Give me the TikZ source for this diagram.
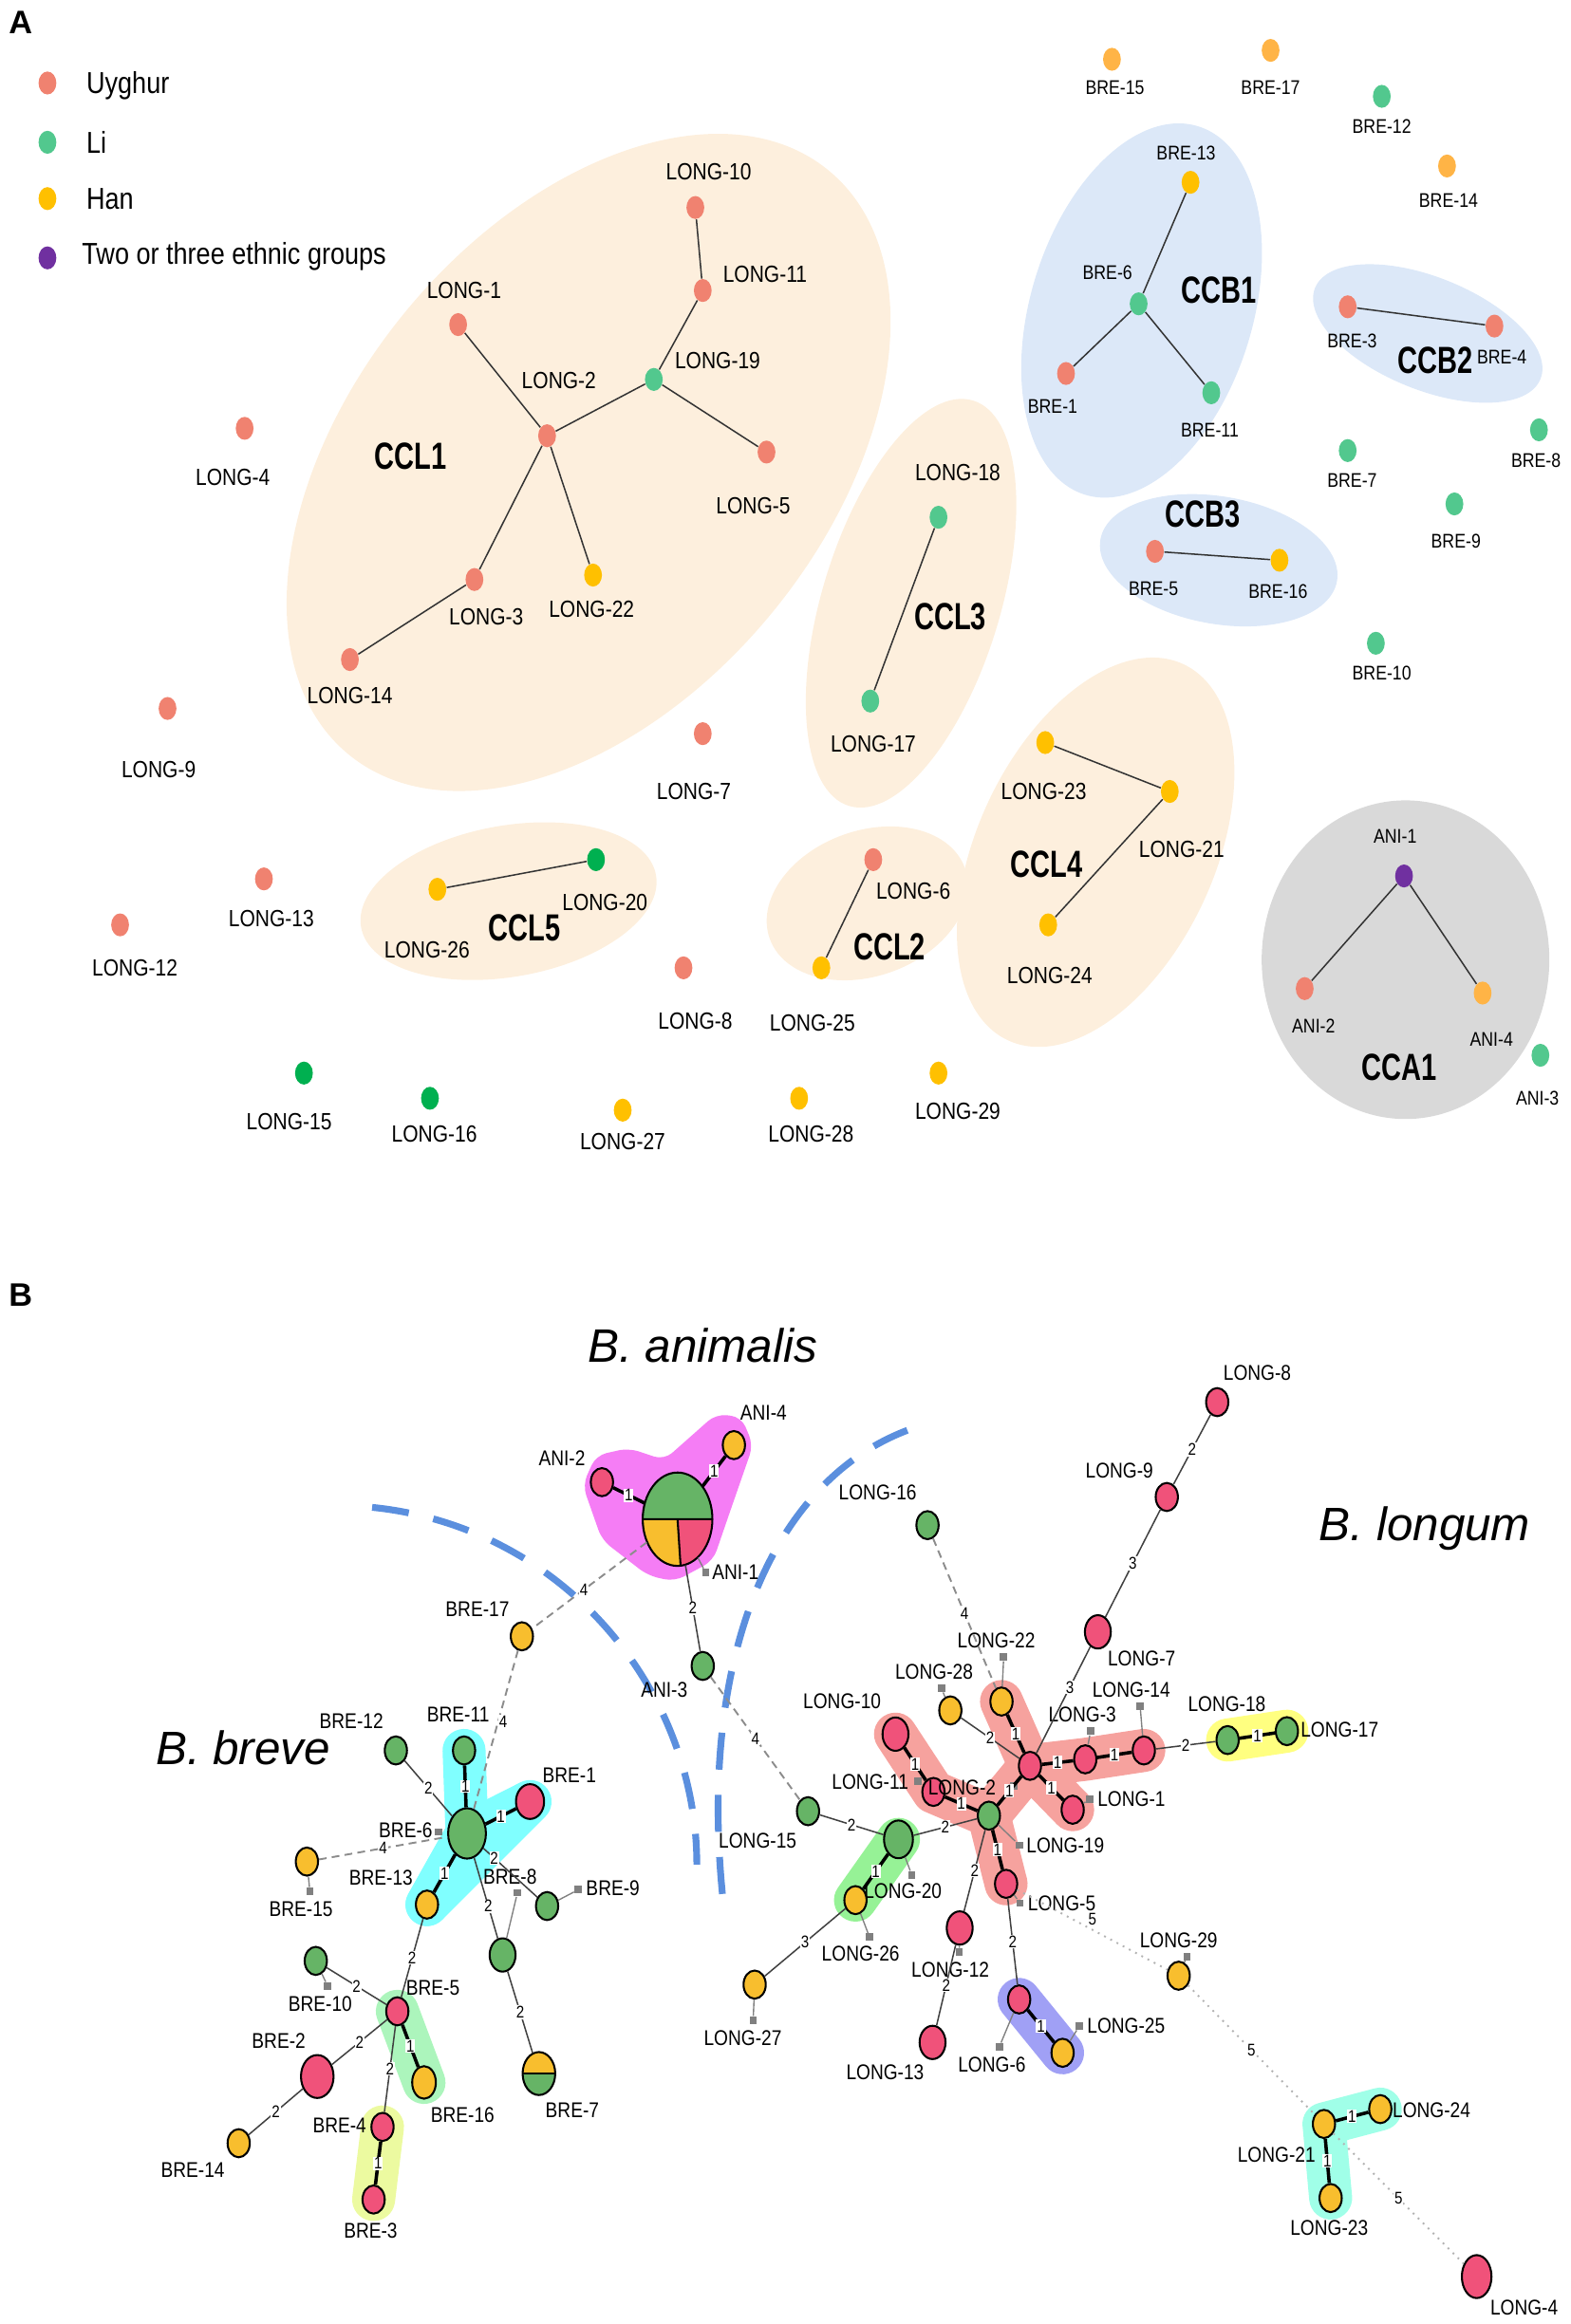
\documentclass[tikz,border=0pt]{standalone}
\usepackage{fontspec}
\setmainfont{Liberation Sans}[FakeStretch=0.85]
\newfontfamily\clufont{Liberation Sans}[FakeStretch=0.73]
\newfontfamily\ttlfnt{Liberation Sans}
\usetikzlibrary{shapes.geometric,backgrounds}

% panel A colours
\definecolor{uyghur}{RGB}{240,130,112}
\definecolor{li}{RGB}{82,200,142}
\definecolor{han}{RGB}{255,192,0}
\definecolor{dkgreen}{RGB}{0,176,80}
\definecolor{orng}{RGB}{255,180,70}
\definecolor{purp}{RGB}{112,48,160}
\definecolor{cclfill}{RGB}{253,239,221}
\definecolor{ccbfill}{RGB}{220,232,248}
\definecolor{ccafill}{RGB}{217,217,217}
% panel B colours
\definecolor{pk}{RGB}{240,82,122}
\definecolor{gn}{RGB}{102,180,102}
\definecolor{yl}{RGB}{248,190,46}
\definecolor{redh}{RGB}{246,162,158}
\definecolor{magh}{RGB}{245,125,245}
\definecolor{cyanh}{RGB}{128,255,255}
\definecolor{lgh}{RGB}{172,245,188}
\definecolor{lyh}{RGB}{236,250,160}
\definecolor{blh}{RGB}{160,160,245}
\definecolor{tqh}{RGB}{160,255,232}
\definecolor{ylh}{RGB}{255,255,128}
\definecolor{grh}{RGB}{150,242,150}
\definecolor{arcblue}{RGB}{91,143,222}

\tikzset{
  adot/.style={ellipse, fill=#1, minimum width=0.24cm, minimum height=0.31cm, inner sep=0pt},
  alab/.style={font=\fontsize{9}{9}\selectfont, inner sep=0pt},
  alabs/.style={font=\fontsize{7.6}{7.6}\selectfont, inner sep=0pt},
  aedge/.style={draw=black!80, line width=0.55pt},
  clname/.style={font=\clufont\bfseries\fontsize{14.5}{14.5}\selectfont, inner sep=0pt},
  legtext/.style={font=\fontsize{11.6}{12}\selectfont, anchor=west, inner sep=0pt},
  panel/.style={font=\ttlfnt\bfseries\fontsize{12.5}{12.5}\selectfont, inner sep=0pt},
  spname/.style={font=\ttlfnt\itshape\fontsize{18}{18}\selectfont, inner sep=0pt},
  bnode/.style={ellipse, draw=black, line width=0.75pt, fill=#1, minimum width=0.3cm, minimum height=0.38cm, inner sep=0pt},
  bmed/.style={bnode=#1, minimum width=0.35cm, minimum height=0.45cm},
  blab/.style={font=\fontsize{8.2}{8.2}\selectfont, inner sep=0pt},
  elab/.style={font=\fontsize{6.5}{6.5}\selectfont, fill=white, inner sep=0.3pt},
  e1/.style={draw=black, line width=1.3pt},
  e2/.style={draw=black!75, line width=0.55pt},
  e4/.style={draw=black!45, line width=0.7pt, dash pattern=on 3pt off 2pt},
  e5/.style={draw=black!30, line width=0.7pt, dotted},
  msq/.style={rectangle, fill=black!50, minimum size=1mm, inner sep=0pt},
  mline/.style={draw=black!50, line width=0.5pt},
  hull/.style={draw=#1, line width=0.58cm, line cap=round, line join=round},
  sepline/.style={draw=arcblue, line width=2.6pt, dash pattern=on 5mm off 3.4mm}
}

\begin{document}
\begin{tikzpicture}[x=0.02cm,y=-0.02cm]
\useasboundingbox (0,0) rectangle (1059,1568);
\node[panel] (pA) at (14,15) {A};
\node[panel] (pB) at (14,874) {B};

% ---------------- Panel A ----------------
% cluster areas
\fill[cclfill, rotate around={50.6:(397,312)}] (397,312) ellipse [x radius=255, y radius=160];
\fill[cclfill, rotate around={73:(614.5,407)}] (614.5,407) ellipse [x radius=143, y radius=60];
\fill[cclfill, rotate around={20:(585,609.5)}] (585,609.5) ellipse [x radius=70, y radius=49];
\fill[cclfill, rotate around={65:(739,575)}] (739,575) ellipse [x radius=140, y radius=80];
\fill[cclfill, rotate around={10:(343,608)}] (343,608) ellipse [x radius=101, y radius=51];
\fill[ccbfill, rotate around={73:(770,209.5)}] (770,209.5) ellipse [x radius=130, y radius=75];
\fill[ccbfill, rotate around={-22:(963,225)}] (963,225) ellipse [x radius=82, y radius=38];
\fill[ccbfill, rotate around={-10:(822,378)}] (822,378) ellipse [x radius=81, y radius=43];
\fill[ccafill] (948,647.5) ellipse [x radius=97, y radius=107.5];

% legend
\node[adot=uyghur] (kuy) at (32,56) {};
\node[legtext] (kuyt) at (58,58) {Uyghur};
\node[adot=li] (kli) at (32,96) {};
\node[legtext] (klit) at (58,96) {Li};
\node[adot=han] (khan) at (32,134) {};
\node[legtext] (khant) at (58,134) {Han};
\node[adot=purp] (kmix) at (32,174) {};
\node[legtext] (kmixt) at (55,173) {Two or three ethnic groups};

% cluster names
\node[clname] (ccl1) at (277,308) {CCL1};
\node[clname] (ccl2) at (600,639) {CCL2};
\node[clname] (ccl3) at (641,416) {CCL3};
\node[clname] (ccl4) at (706,583) {CCL4};
\node[clname] (ccl5) at (354,626) {CCL5};
\node[clname] (ccb1) at (822,196) {CCB1};
\node[clname] (ccb2) at (968,243) {CCB2};
\node[clname] (ccb3) at (811,347) {CCB3};
\node[clname] (cca1) at (944,720) {CCA1};

% B. longum isolates
\node[adot=uyghur] (aL10) at (469,140) {};
\node[alab] (aL10t) at (478,116) {LONG-10};
\node[adot=uyghur] (aL11) at (474,196) {};
\node[alab] (aL11t) at (516,185) {LONG-11};
\node[adot=uyghur] (aL1) at (309,219) {};
\node[alab] (aL1t) at (313,196) {LONG-1};
\node[adot=li] (aL19) at (441,256) {};
\node[alab] (aL19t) at (484,243) {LONG-19};
\node[adot=uyghur] (aL2) at (369,294) {};
\node[alab] (aL2t) at (377,257) {LONG-2};
\node[adot=uyghur] (aL5) at (517,305) {};
\node[alab] (aL5t) at (508,341) {LONG-5};
\node[adot=uyghur] (aL3) at (320,391) {};
\node[alab] (aL3t) at (328,416) {LONG-3};
\node[adot=han] (aL22) at (400,388) {};
\node[alab] (aL22t) at (399,411) {LONG-22};
\node[adot=uyghur] (aL14) at (236,445) {};
\node[alab] (aL14t) at (236,469) {LONG-14};
\node[adot=uyghur] (aL4) at (165,289) {};
\node[alab] (aL4t) at (157,322) {LONG-4};
\node[adot=uyghur] (aL9) at (113,478) {};
\node[alab] (aL9t) at (107,519) {LONG-9};
\node[adot=uyghur] (aL7) at (474,495) {};
\node[alab] (aL7t) at (468,534) {LONG-7};
\node[adot=uyghur] (aL13) at (178,593) {};
\node[alab] (aL13t) at (183,620) {LONG-13};
\node[adot=uyghur] (aL12) at (81,624) {};
\node[alab] (aL12t) at (91,653) {LONG-12};
\node[adot=han] (aL26) at (295,600) {};
\node[alab] (aL26t) at (288,641) {LONG-26};
\node[adot=dkgreen] (aL20) at (402,580) {};
\node[alab] (aL20t) at (408,609) {LONG-20};
\node[adot=uyghur] (aL8) at (461,653) {};
\node[alab] (aL8t) at (469,689) {LONG-8};
\node[adot=dkgreen] (aL15) at (205,724) {};
\node[alab] (aL15t) at (195,757) {LONG-15};
\node[adot=dkgreen] (aL16) at (290,741) {};
\node[alab] (aL16t) at (293,765) {LONG-16};
\node[adot=han] (aL27) at (420,749) {};
\node[alab] (aL27t) at (420,770) {LONG-27};
\node[adot=han] (aL28) at (539,741) {};
\node[alab] (aL28t) at (547,765) {LONG-28};
\node[adot=han] (aL29) at (633,724) {};
\node[alab] (aL29t) at (646,750) {LONG-29};
\node[adot=li] (aL18) at (633,349) {};
\node[alab] (aL18t) at (646,319) {LONG-18};
\node[adot=li] (aL17) at (587,473) {};
\node[alab] (aL17t) at (589,502) {LONG-17};
\node[adot=uyghur] (aL6) at (589,580) {};
\node[alab] (aL6t) at (616,601) {LONG-6};
\node[adot=han] (aL25) at (554,653) {};
\node[alab] (aL25t) at (548,690) {LONG-25};
\node[adot=han] (aL23) at (705,501) {};
\node[alab] (aL23t) at (704,534) {LONG-23};
\node[adot=han] (aL21) at (789,534) {};
\node[alab] (aL21t) at (797,573) {LONG-21};
\node[adot=han] (aL24) at (707,624) {};
\node[alab] (aL24t) at (708,658) {LONG-24};

% B. breve and B. animalis isolates
\node[adot=orng] (aB15) at (750,40) {};
\node[alabs] (aB15t) at (752,59) {BRE-15};
\node[adot=orng] (aB17) at (857,34) {};
\node[alabs] (aB17t) at (857,59) {BRE-17};
\node[adot=li] (aB12) at (932,65) {};
\node[alabs] (aB12t) at (932,85) {BRE-12};
\node[adot=orng] (aB14) at (976,112) {};
\node[alabs] (aB14t) at (977,135) {BRE-14};
\node[adot=han] (aB13) at (803,123) {};
\node[alabs] (aB13t) at (800,103) {BRE-13};
\node[adot=li] (aB6) at (768,205) {};
\node[alabs] (aB6t) at (747,184) {BRE-6};
\node[adot=uyghur] (aB1) at (719,252) {};
\node[alabs] (aB1t) at (710,274) {BRE-1};
\node[adot=li] (aB11) at (817,265) {};
\node[alabs] (aB11t) at (816,290) {BRE-11};
\node[adot=uyghur] (aB3) at (909,207) {};
\node[alabs] (aB3t) at (912,230) {BRE-3};
\node[adot=uyghur] (aB4) at (1008,220) {};
\node[alabs] (aB4t) at (1013,241) {BRE-4};
\node[adot=li] (aB7) at (909,304) {};
\node[alabs] (aB7t) at (912,324) {BRE-7};
\node[adot=li] (aB8) at (1038,290) {};
\node[alabs] (aB8t) at (1036,311) {BRE-8};
\node[adot=li] (aB9) at (981,340) {};
\node[alabs] (aB9t) at (982,365) {BRE-9};
\node[adot=uyghur] (aB5) at (779,372) {};
\node[alabs] (aB5t) at (778,397) {BRE-5};
\node[adot=han] (aB16) at (863,378) {};
\node[alabs] (aB16t) at (862,399) {BRE-16};
\node[adot=li] (aB10) at (928,434) {};
\node[alabs] (aB10t) at (932,454) {BRE-10};
\node[adot=purp] (aA1) at (947,591) {};
\node[alabs] (aA1t) at (941,564) {ANI-1};
\node[adot=uyghur] (aA2) at (880,667) {};
\node[alabs] (aA2t) at (886,692) {ANI-2};
\node[adot=orng] (aA4) at (1000,670) {};
\node[alabs] (aA4t) at (1006,701) {ANI-4};
\node[adot=li] (aA3) at (1039,712) {};
\node[alabs] (aA3t) at (1037,741) {ANI-3};

% links
\draw[aedge] (aL10) -- (aL11);
\draw[aedge] (aL11) -- (aL19);
\draw[aedge] (aL19) -- (aL2);
\draw[aedge] (aL19) -- (aL5);
\draw[aedge] (aL1) -- (aL2);
\draw[aedge] (aL2) -- (aL3);
\draw[aedge] (aL2) -- (aL22);
\draw[aedge] (aL3) -- (aL14);
\draw[aedge] (aL18) -- (aL17);
\draw[aedge] (aL23) -- (aL21);
\draw[aedge] (aL21) -- (aL24);
\draw[aedge] (aL6) -- (aL25);
\draw[aedge] (aL26) -- (aL20);
\draw[aedge] (aB13) -- (aB6);
\draw[aedge] (aB6) -- (aB1);
\draw[aedge] (aB6) -- (aB11);
\draw[aedge] (aB3) -- (aB4);
\draw[aedge] (aB5) -- (aB16);
\draw[aedge] (aA1) -- (aA2);
\draw[aedge] (aA1) -- (aA4);

% ---------------- Panel B ----------------
\node[spname] (tAni) at (474,908) {B. animalis};
\node[spname] (tBre) at (164,1179) {B. breve};
\node[spname] (tLon) at (961,1031) {B. longum};

% B. animalis
\node[ellipse, minimum width=0.94cm, minimum height=1.26cm, inner sep=0pt] (bA1) at (457,1025) {};
\node[bnode=pk] (bA2) at (406,1000) {};
\node[blab] (bA2t) at (379,984) {ANI-2};
\node[bnode=yl] (bA4) at (495,975) {};
\node[blab] (bA4t) at (515,953) {ANI-4};
\node[bnode=gn] (bA3) at (474,1124) {};
\node[blab] (bA3t) at (448,1140) {ANI-3};
\node[msq] (bA1m) at (476,1061) {};
\node[blab, anchor=west] (bA1t) at (480,1061) {ANI-1};
\begin{scope}[shift={(bA1.center)}]
  \fill[gn] (0,0) -- (180:23.5 and 31.5) arc[start angle=180, end angle=360, x radius=23.5, y radius=31.5] -- cycle;
  \fill[yl] (0,0) -- (85:23.5 and 31.5) arc[start angle=85, end angle=180, x radius=23.5, y radius=31.5] -- cycle;
  \fill[pk] (0,0) -- (0:23.5 and 31.5) arc[start angle=0, end angle=85, x radius=23.5, y radius=31.5] -- cycle;
  \draw[line width=0.75pt] (180:23.5 and 31.5) -- (0:23.5 and 31.5) (0,0) -- (85:23.5 and 31.5);
  \draw[line width=0.75pt] (0,0) ellipse [x radius=23.5, y radius=31.5];
\end{scope}

% B. breve
\node[bnode=yl] (bB17) at (352,1104) {};
\node[blab] (bB17t) at (322,1086) {BRE-17};
\node[bnode=gn] (bB12) at (267,1181) {};
\node[blab] (bB12t) at (237,1161) {BRE-12};
\node[bnode=gn] (bB11) at (313,1181) {};
\node[blab] (bB11t) at (309,1157) {BRE-11};
\node[bnode=pk, minimum width=0.38cm, minimum height=0.47cm] (bB1) at (357.5,1215.5) {};
\node[blab] (bB1t) at (384,1198) {BRE-1};
\node[bnode=gn, minimum width=0.51cm, minimum height=0.68cm] (bB6) at (315,1237) {};
\node[msq] (bB6m) at (296,1236) {};
\node[blab, anchor=east] (bB6t) at (292,1235) {BRE-6};
\node[bnode=yl] (bB13) at (288,1285) {};
\node[blab] (bB13t) at (257,1267) {BRE-13};
\node[bnode=yl] (bB15) at (207,1256) {};
\node[msq] (bB15m) at (209,1276) {};
\node[blab] (bB15t) at (203,1288) {BRE-15};
\node[bmed=gn] (bB8) at (339,1319) {};
\node[msq] (bB8m) at (349,1277) {};
\node[blab] (bB8t) at (344,1266) {BRE-8};
\node[bnode=gn] (bB9) at (369,1286) {};
\node[msq] (bB9m) at (390,1275) {};
\node[blab, anchor=west] (bB9t) at (395,1274) {BRE-9};
\node[bnode=gn] (bB10) at (213,1323) {};
\node[msq] (bB10m) at (221,1340) {};
\node[blab] (bB10t) at (216,1352) {BRE-10};
\node[bnode=pk] (bB5) at (268,1357) {};
\node[blab] (bB5t) at (292,1341) {BRE-5};
\node[bnode=yl, minimum width=0.32cm, minimum height=0.44cm] (bB16) at (286,1405) {};
\node[blab] (bB16t) at (312,1427) {BRE-16};
\node[bnode=pk, minimum width=0.44cm, minimum height=0.58cm] (bB2) at (214,1401) {};
\node[blab] (bB2t) at (188,1377) {BRE-2};
\node[bnode=yl] (bB14) at (161,1446) {};
\node[blab] (bB14t) at (130,1464) {BRE-14};
\node[bnode=pk] (bB4) at (258,1435) {};
\node[blab] (bB4t) at (229,1434) {BRE-4};
\node[bnode=pk] (bB3) at (252,1484) {};
\node[blab] (bB3t) at (250,1505) {BRE-3};
\node[ellipse, minimum width=0.44cm, minimum height=0.58cm, inner sep=0pt] (bB7) at (363.5,1399) {};
\node[blab] (bB7t) at (386,1424) {BRE-7};
\begin{scope}[shift={(bB7.center)}]
  \fill[yl] (180:11 and 14.5) arc[start angle=180, end angle=360, x radius=11, y radius=14.5] -- cycle;
  \fill[gn] (0:11 and 14.5) arc[start angle=0, end angle=180, x radius=11, y radius=14.5] -- cycle;
  \draw[line width=0.75pt] (180:11 and 14.5) -- (0:11 and 14.5);
  \draw[line width=0.75pt] (0,0) ellipse [x radius=11, y radius=14.5];
\end{scope}

% B. longum
\node[bnode=pk] (bL2) at (694.7,1191.4) {};
\node[msq] (bL2m) at (684,1205) {};
\node[bnode=yl] (bL22) at (675.5,1148) {};
\node[msq] (bL22m) at (677,1118) {};
\node[blab] (bL22t) at (672,1107) {LONG-22};
\node[bnode=yl] (bL28) at (641,1154) {};
\node[msq] (bL28m) at (635,1139) {};
\node[blab] (bL28t) at (630,1128) {LONG-28};
\node[bmed=pk] (bL10) at (604,1170) {};
\node[blab] (bL10t) at (568,1148) {LONG-10};
\node[bnode=pk] (bL11) at (629.6,1209) {};
\node[msq] (bL11m) at (619,1202) {};
\node[blab, anchor=east] (bL11t) at (613,1202) {LONG-11};
\node[blab, anchor=east] (bL2t) at (672,1206) {LONG-2};
\node[bnode=pk] (bL3) at (732,1187) {};
\node[msq] (bL3m) at (735.6,1168) {};
\node[blab] (bL3t) at (730,1157) {LONG-3};
\node[bnode=pk] (bL14) at (771.5,1181) {};
\node[msq] (bL14m) at (769,1151) {};
\node[blab] (bL14t) at (763,1140) {LONG-14};
\node[bnode=pk] (bL1) at (723.5,1221) {};
\node[msq] (bL1m) at (735,1214) {};
\node[blab, anchor=west] (bL1t) at (740,1214) {LONG-1};
\node[bnode=gn] (bL19) at (667,1225) {};
\node[msq] (bL19m) at (687.6,1245) {};
\node[blab, anchor=west] (bL19t) at (692,1245) {LONG-19};
\node[bnode=gn] (bL15) at (545,1222) {};
\node[blab] (bL15t) at (511,1242) {LONG-15};
\node[bnode=gn, minimum width=0.39cm, minimum height=0.51cm] (bL20) at (606,1241) {};
\node[msq] (bL20m) at (615,1265) {};
\node[blab] (bL20t) at (609,1276) {LONG-20};
\node[bnode=yl] (bL26) at (577,1282) {};
\node[msq] (bL26m) at (586.5,1307) {};
\node[blab] (bL26t) at (580.5,1318) {LONG-26};
\node[bnode=yl] (bL27) at (509,1339) {};
\node[msq] (bL27m) at (508,1363) {};
\node[blab] (bL27t) at (501,1375) {LONG-27};
\node[bnode=pk] (bL5) at (678.6,1271) {};
\node[msq] (bL5m) at (688,1284) {};
\node[blab, anchor=west] (bL5t) at (693,1284) {LONG-5};
\node[bmed=pk] (bL12) at (647.3,1300.8) {};
\node[msq] (bL12m) at (647,1317) {};
\node[blab] (bL12t) at (641,1329) {LONG-12};
\node[bmed=pk] (bL13) at (629,1378) {};
\node[blab] (bL13t) at (597,1398) {LONG-13};
\node[bnode=pk] (bL6) at (687.4,1349) {};
\node[msq] (bL6m) at (674,1381) {};
\node[blab] (bL6t) at (669,1393) {LONG-6};
\node[bnode=yl] (bL25) at (716.7,1385) {};
\node[msq] (bL25m) at (728,1367) {};
\node[blab, anchor=west] (bL25t) at (733,1367) {LONG-25};
\node[bmed=pk] (bL7) at (740.5,1101) {};
\node[blab] (bL7t) at (770,1119) {LONG-7};
\node[bnode=pk] (bL9) at (787,1010) {};
\node[blab] (bL9t) at (755,992) {LONG-9};
\node[bnode=pk] (bL8) at (821,946) {};
\node[blab] (bL8t) at (848,926) {LONG-8};
\node[bnode=gn] (bL16) at (625.6,1029) {};
\node[blab] (bL16t) at (592,1007) {LONG-16};
\node[bnode=gn] (bL18) at (828,1174) {};
\node[blab] (bL18t) at (827.5,1150) {LONG-18};
\node[bnode=gn] (bL17) at (868,1168) {};
\node[blab, anchor=west] (bL17t) at (877,1167) {LONG-17};
\node[bnode=yl] (bL29) at (795,1333) {};
\node[msq] (bL29m) at (800.6,1320) {};
\node[blab] (bL29t) at (795,1309) {LONG-29};
\node[bnode=yl] (bL24) at (931,1423) {};
\node[blab, anchor=west] (bL24t) at (939,1424) {LONG-24};
\node[bnode=yl] (bL21) at (893,1433) {};
\node[blab] (bL21t) at (861,1454) {LONG-21};
\node[bnode=yl] (bL23) at (897.5,1483) {};
\node[blab] (bL23t) at (896.5,1503) {LONG-23};
\node[bnode=pk, minimum width=0.4cm, minimum height=0.58cm] (bL4) at (996,1536) {};
\node[blab] (bL4t) at (1028,1557) {LONG-4};

% groups and species borders
\begin{scope}[on background layer]
  \fill[magh, rounded corners=4pt] (393,1002) -- (402,982) -- (424,977) -- (448,985) -- (483,954) -- (500,956) -- (508,975) -- (492,1021) -- (481,1053) -- (455,1067) -- (437,1063) -- (406,1039) -- cycle;
  \draw[hull=cyanh] (bB11.center) -- (bB6.center) -- (bB13.center);
  \filldraw[hull=cyanh, fill=cyanh] (bB6.center) -- (bB1.center) -- (bB13.center) -- cycle;
  \draw[hull=lgh] (bB5.center) -- (bB16.center);
  \draw[hull=lyh] (bB4.center) -- (bB3.center);
  \draw[hull=redh] (bL10.center) -- (bL11.center) -- (bL19.center) -- (bL5.center);
  \draw[hull=redh] (bL22.center) -- (bL2.center) -- (bL1.center);
  \draw[hull=redh] (bL2.center) -- (bL3.center) -- (bL14.center);
  \draw[hull=redh] (bL2.center) -- (bL19.center);
  \draw[hull=grh] (bL20.center) -- (bL26.center);
  \draw[hull=blh] (bL6.center) -- (bL25.center);
  \draw[hull=ylh] (bL18.center) -- (bL17.center);
  \draw[hull=tqh] (bL24.center) -- (bL21.center) -- (bL23.center);
  \draw[sepline] (251,1017) .. controls (380,1030) and (470,1140) .. (470,1258);
  \draw[sepline] (612,965) .. controls (520,1000) and (470,1120) .. (488,1285);
\end{scope}

% label markers
\draw[mline] (bA1) -- (bA1m);
\draw[mline] (bB15) -- (bB15m);
\draw[mline] (bB8) -- (bB8m);
\draw[mline] (bB9) -- (bB9m);
\draw[mline] (bB10) -- (bB10m);
\draw[mline] (bL22) -- (bL22m);
\draw[mline] (bL28) -- (bL28m);
\draw[mline] (bL14) -- (bL14m);
\draw[mline] (bL3) -- (bL3m);
\draw[mline] (bL2) -- (bL2m);
\draw[mline] (bL1) -- (bL1m);
\draw[mline] (bL19) -- (bL19m);
\draw[mline] (bL20) -- (bL20m);
\draw[mline] (bL26) -- (bL26m);
\draw[mline] (bL27) -- (bL27m);
\draw[mline] (bL5) -- (bL5m);
\draw[mline] (bL12) -- (bL12m);
\draw[mline] (bL6) -- (bL6m);
\draw[mline] (bL25) -- (bL25m);
\draw[mline] (bL29) -- (bL29m);

% B. animalis links
\draw[e1] (bA1) -- node[elab] {1} (bA2);
\draw[e1] (bA1) -- node[elab] {1} (bA4);
\draw[e2] (bA1) -- node[elab] {2} (bA3);
\draw[e4] (bA1) -- node[elab, pos=0.55] {4} (bB17);
\draw[e4] (bA3) -- node[elab] {4} (bL15);
% B. breve links
\draw[e4] (bB17) -- node[elab, pos=0.45, xshift=2pt] {4} (bB6);
\draw[e2] (bB12) -- node[elab] {2} (bB6);
\draw[e1] (bB11) -- node[elab] {1} (bB6);
\draw[e1] (bB1) -- node[elab] {1} (bB6);
\draw[e1] (bB13) -- node[elab] {1} (bB6);
\draw[e4] (bB15) -- node[elab] {4} (bB6);
\draw[e2] (bB6) -- node[elab, pos=0.6] {2} (bB8);
\draw[e2] (bB6) -- node[elab, pos=0.2] {2} (bB9);
\draw[e2] (bB8) -- node[elab] {2} (bB7);
\draw[e2] (bB13) -- node[elab] {2} (bB5);
\draw[e2] (bB10) -- node[elab] {2} (bB5);
\draw[e1] (bB5) -- node[elab] {1} (bB16);
\draw[e2] (bB5) -- node[elab] {2} (bB2);
\draw[e2] (bB5) -- node[elab] {2} (bB4);
\draw[e1] (bB4) -- node[elab] {1} (bB3);
\draw[e2] (bB2) -- node[elab] {2} (bB14);
% B. longum links
\draw[e1] (bL10) -- node[elab] {1} (bL11);
\draw[e1] (bL11) -- node[elab] {1} (bL19);
\draw[e1] (bL2) -- node[elab] {1} (bL22);
\draw[e2] (bL2) -- node[elab] {2} (bL28);
\draw[e1] (bL2) -- node[elab] {1} (bL3);
\draw[e1] (bL3) -- node[elab] {1} (bL14);
\draw[e2] (bL14) -- node[elab] {2} (bL18);
\draw[e1] (bL18) -- node[elab] {1} (bL17);
\draw[e1] (bL2) -- node[elab] {1} (bL1);
\draw[e1] (bL2) -- node[elab] {1} (bL19);
\draw[e2] (bL2) -- node[elab, pos=0.62] {3} (bL7);
\draw[e2] (bL7) -- node[elab] {3} (bL9);
\draw[e2] (bL9) -- node[elab] {2} (bL8);
\draw[e4] (bL16) -- node[elab] {4} (bL22);
\draw[e2] (bL19) -- node[elab] {2} (bL20);
\draw[e2] (bL15) -- node[elab] {2} (bL20);
\draw[e1] (bL19) -- node[elab] {1} (bL5);
\draw[e2] (bL19) -- node[elab] {2} (bL12);
\draw[e1] (bL20) -- node[elab] {1} (bL26);
\draw[e2] (bL26) -- node[elab] {3} (bL27);
\draw[e2] (bL12) -- node[elab] {2} (bL13);
\draw[e2] (bL5) -- node[elab] {2} (bL6);
\draw[e1] (bL6) -- node[elab] {1} (bL25);
\draw[e5] (bL5) -- node[elab, above=1pt] {5} (bL29);
\draw[e5] (bL29) -- node[elab] {5} (bL21);
\draw[e5] (bL21) -- node[elab] {5} (bL4);
\draw[e1] (bL21) -- node[elab] {1} (bL24);
\draw[e1] (bL21) -- node[elab] {1} (bL23);
\end{tikzpicture}
\end{document}
